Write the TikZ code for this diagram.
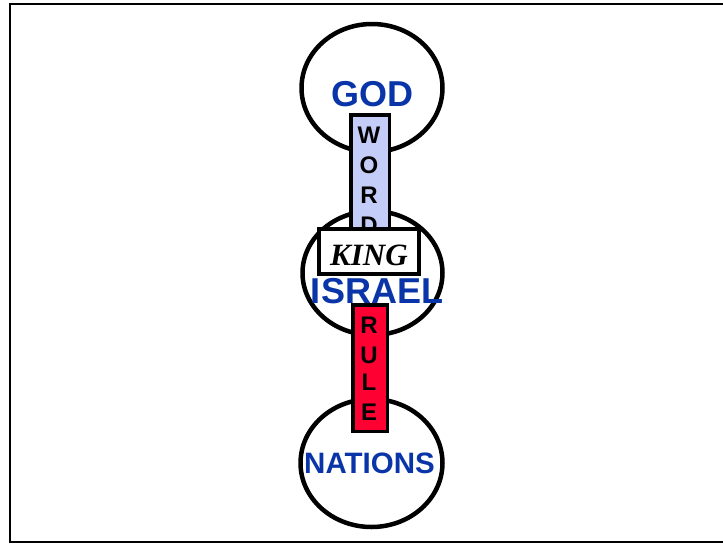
\documentclass[tikz,border=0pt]{standalone}
\usepackage{fontspec}
\setmainfont{Liberation Serif}
\setsansfont{Liberation Sans}
\usetikzlibrary{shapes.geometric}
\definecolor{labelblue}{HTML}{0A35A8}
\definecolor{wordfill}{HTML}{C4CCF8}
\definecolor{rulefill}{HTML}{FF0033}
\begin{document}
\begin{tikzpicture}[x=1pt,y=-1pt,
  blob/.style={draw,ellipse,line width=4.5pt,inner sep=0pt,fill=white},
  bar/.style={draw,rectangle,line width=3.5pt,inner sep=0pt},
  biglabel/.style={anchor=base,inner sep=0pt,text=labelblue,font=\sffamily\bfseries\fontsize{36}{36}\selectfont},
  letter/.style={anchor=base,inner sep=0pt,font=\sffamily\bfseries\fontsize{24}{24}\selectfont}]
\useasboundingbox (0,0) rectangle (723,544);
\clip (0,0) rectangle (723,544);
\draw[line width=2.2pt] (10,4) rectangle (760,542);
% ellipses
\node[blob,minimum width=141pt,minimum height=128pt] (god) at (372,88) {};
\node[blob,minimum width=140pt,minimum height=124pt] (israel) at (372.5,273) {};
\node[blob,minimum width=142pt,minimum height=128pt] (nations) at (371.5,463) {};
% labels
\node[biglabel] (godt) at (372,106) {GOD};
% word box
\node[bar,fill=wordfill,minimum width=38.5pt,minimum height=124.5pt] (word) at (370,177) {};
\node[letter] (w1) at (369,143) {W};
\node[letter] (w2) at (369,173) {O};
\node[letter] (w3) at (369,203) {R};
\node[letter] (w4) at (369,233) {D};
% king box
\node[bar,fill=white,minimum width=100pt,minimum height=45pt] (king) at (369,251.5) {};
\node[anchor=base,inner sep=0pt,font=\rmfamily\bfseries\itshape\fontsize{31}{31}\selectfont] (kingt) at (369,265) {KING};
\node[biglabel] (israelt) at (377,303) {ISRAEL};
% rule box
\node[bar,fill=rulefill,minimum width=34.5pt,minimum height=126.5pt] (rule) at (370,368) {};
\node[letter] (r1) at (369,333) {R};
\node[letter] (r2) at (369,363) {U};
\node[letter] (r3) at (369,390) {L};
\node[letter] (r4) at (369,420) {E};
\node[biglabel,font=\sffamily\bfseries\fontsize{29.5}{29.5}\selectfont] (nationst) at (369.5,473) {NATIONS};
\end{tikzpicture}
\end{document}
